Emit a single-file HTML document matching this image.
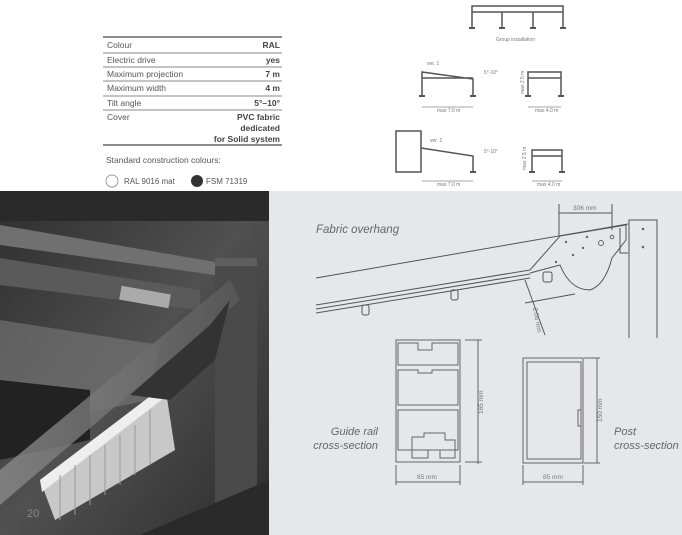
<!DOCTYPE html>
<html><head><meta charset="utf-8"><style>
html,body{margin:0;padding:0;background:#fff;width:682px;height:535px;overflow:hidden}
svg{display:block}
text{font-family:"Liberation Sans",sans-serif}
</style></head><body>
<svg width="682" height="535" viewBox="0 0 682 535" xmlns="http://www.w3.org/2000/svg">
<defs>
<linearGradient id="ph" x1="0" y1="0" x2="1" y2="1">
<stop offset="0" stop-color="#2e2e2e"/><stop offset="0.5" stop-color="#505050"/><stop offset="1" stop-color="#2c2c2c"/></linearGradient>
<linearGradient id="gl" x1="0" y1="0" x2="1" y2="0">
<stop offset="0" stop-color="#8a8a8a"/><stop offset="1" stop-color="#5a5a5a"/></linearGradient>
</defs>
<!-- table -->
<g font-size="8.5" fill="#555">
<line x1="103" y1="37" x2="282" y2="37" stroke="#666" stroke-width="1.5"/>
<line x1="103" y1="53" x2="282" y2="53" stroke="#888" stroke-width="1"/>
<line x1="103" y1="67" x2="282" y2="67" stroke="#888" stroke-width="1"/>
<line x1="103" y1="81" x2="282" y2="81" stroke="#888" stroke-width="1"/>
<line x1="103" y1="96" x2="282" y2="96" stroke="#888" stroke-width="1"/>
<line x1="103" y1="110" x2="282" y2="110" stroke="#888" stroke-width="1"/>
<line x1="103" y1="145" x2="282" y2="145" stroke="#666" stroke-width="1.5"/>
<text x="107" y="48">Colour</text><text x="107" y="63">Electric drive</text><text x="107" y="77">Maximum projection</text><text x="107" y="91">Maximum width</text><text x="107" y="106">Tilt angle</text><text x="107" y="120">Cover</text>
<g font-weight="bold" text-anchor="end" fill="#444"><text x="280" y="48">RAL</text><text x="280" y="63">yes</text><text x="280" y="77">7 m</text><text x="280" y="91">4 m</text><text x="280" y="106">5°–10°</text><text x="280" y="120">PVC fabric</text><text x="280" y="131">dedicated</text><text x="280" y="142">for Solid system</text></g>
<text x="106" y="163">Standard construction colours:</text>
<circle cx="112" cy="181" r="6" fill="#fff" stroke="#999"/><text x="124" y="184" font-size="8">RAL 9016 mat</text>
<circle cx="197" cy="181" r="6" fill="#333"/><text x="206" y="184" font-size="8">FSM 71319</text>
</g>
<!-- top right diagrams -->
<g stroke="#555" stroke-width="1.5" fill="none">
<path d="M472 28V6H563V28M472 12H563M502 12V28M533 12V28"/>
<path d="M422 96V72L473 79V96M422 78H473"/>
<path d="M528 96V72H561V96M528 78H561"/>
<rect x="396" y="131" width="25" height="41"/>
<path d="M421 148L473 156V172"/>
<path d="M532 172V150H562V172M532 156H562"/>
</g>
<g fill="#555"><rect x="469" y="27" width="6" height="2"/><rect x="499" y="27" width="6" height="2"/><rect x="530" y="27" width="6" height="2"/><rect x="560" y="27" width="6" height="2"/>
<rect x="419" y="95" width="6" height="2"/><rect x="470" y="95" width="6" height="2"/><rect x="525" y="95" width="6" height="2"/><rect x="558" y="95" width="6" height="2"/>
<rect x="470" y="171" width="6" height="2"/><rect x="529" y="171" width="6" height="2"/><rect x="559" y="171" width="6" height="2"/></g>
<g stroke="#888" stroke-width="0.7"><line x1="422" y1="107" x2="473" y2="107"/><line x1="528" y1="107" x2="561" y2="107"/><line x1="422" y1="181" x2="473" y2="181"/><line x1="532" y1="181" x2="562" y2="181"/></g>
<g font-size="5" fill="#777"><text x="496" y="41">Group installation</text><text x="427" y="65">ver. 1</text><text x="430" y="142">ver. 2</text><text x="484" y="74">5°-10°</text><text x="484" y="153">5°-10°</text>
<text x="437" y="112">max 7.0 m</text><text x="535" y="112">max 4.0 m</text><text x="437" y="186">max 7.0 m</text><text x="537" y="186">max 4.0 m</text>
<text transform="translate(524,94) rotate(-90)">max 2.5 m</text><text transform="translate(526,170) rotate(-90)">max 2.5 m</text></g>
<!-- photo -->
<rect x="0" y="191" width="269" height="344" fill="url(#ph)"/>
<rect x="0" y="191" width="269" height="30" fill="#2a2a2a"/>
<path d="M0 225L215 262V275L0 245Z" fill="#707070"/>
<path d="M0 258L200 290V310L0 285Z" fill="#5a5a5a"/>
<path d="M0 320L160 345L150 400L0 430Z" fill="#7a7a7a" opacity="0.6"/>
<path d="M0 380L90 390V440L0 460Z" fill="#222"/>
<rect x="215" y="258" width="42" height="277" fill="#4a4a4a"/>
<rect x="215" y="258" width="42" height="8" fill="#5e5e5e"/>
<path d="M0 470L230 280L240 300L0 505Z" fill="url(#gl)" opacity="0.8"/>
<path d="M40 480L165 385L175 450L55 520Z" fill="#c8c8c8"/>
<path d="M40 480L165 385L168 395L42 492Z" fill="#eee"/>
<g stroke="#999" stroke-width="1"><path d="M60 475V520M75 465V515M90 455V505M105 445V495M120 435V485M135 425V475M150 410V465"/></g>
<path d="M130 395L210 325L230 300L215 360L170 400Z" fill="#333"/>
<rect x="120" y="290" width="50" height="14" fill="#aaa" transform="rotate(10 145 297)"/>
<path d="M140 535L269 480V535Z" fill="#2a2a2a"/>
<text x="27" y="517" font-size="11" fill="#888">20</text>
<!-- right panel -->
<rect x="269" y="191" width="413" height="344" fill="#e6e7e9"/>
<text x="316" y="233" font-size="11.5" font-style="italic" fill="#666">Fabric overhang</text>
<g stroke="#555" stroke-width="1" fill="none">
<path d="M316 278L628 224"/>
<path d="M316 305L530 270M316 309L530 274M316 313L530 278"/>
<path d="M530 270L560 236L626 225L626 240L612 258Q605 285 590 290Q570 290 560 265L530 273"/>
<path d="M620 228V253H628"/>
<path d="M629 338V220H657V338"/>
<path d="M559 204V236M612 204V230M559 213H612"/>
<path d="M525 280L545 335M525 303L575 294"/>
<rect x="543" y="272" width="9" height="10" rx="2"/>
<rect x="451" y="290" width="7" height="10" rx="2"/>
<rect x="362" y="305" width="7" height="10" rx="2"/>
</g>
<g fill="#666"><circle cx="601" cy="243" r="2.5" fill="none" stroke="#666"/><circle cx="566" cy="242" r="1.2"/><circle cx="587" cy="237" r="1.2"/><circle cx="583" cy="248" r="1.2"/><circle cx="573" cy="255" r="1.2"/><circle cx="556" cy="262" r="1.2"/><circle cx="643" cy="229" r="1.3"/><circle cx="643" cy="247" r="1.3"/><circle cx="612" cy="237" r="1.8" fill="none" stroke="#666"/></g>
<text x="573" y="210" font-size="6.5" fill="#777">306 mm</text>
<text transform="translate(533,308) rotate(80)" font-size="6.5" fill="#777">2.06 mm</text>
<!-- guide rail -->
<g stroke="#666" stroke-width="1" fill="none">
<path d="M396 340H460V462H396Z"/>
<path d="M398 343H418V350H432V343H458V365H398Z"/>
<path d="M398 370H418V373H432V370H458V405H398Z"/>
<path d="M398 410H458V450H398Z"/>
<path d="M412 450V437H424V433H445V440H455V458H440V450H428V458H412Z"/>
<path d="M478 340V464M465 340H482M465 462H482M396 465V485M460 465V485M396 482H460"/>
</g>
<text transform="translate(483,414) rotate(-90)" font-size="6.5" fill="#777">165 mm</text>
<text x="417" y="479" font-size="6.5" fill="#777">85 mm</text>
<text x="378" y="435" font-size="11" font-style="italic" fill="#666" text-anchor="end">Guide rail</text>
<text x="378" y="449" font-size="11" font-style="italic" fill="#666" text-anchor="end">cross-section</text>
<!-- post -->
<g stroke="#666" stroke-width="1" fill="none">
<rect x="523" y="358" width="60" height="105"/>
<path d="M527 362H581V459H527Z"/>
<path d="M581 410h-3v16h3"/>
<path d="M597 358V463M584 358H600M584 463H600M523 465V485M583 465V485M523 482H583"/>
</g>
<text transform="translate(602,422) rotate(-90)" font-size="6.5" fill="#777">150 mm</text>
<text x="543" y="479" font-size="6.5" fill="#777">85 mm</text>
<text x="614" y="435" font-size="11" font-style="italic" fill="#666">Post</text>
<text x="614" y="449" font-size="11" font-style="italic" fill="#666">cross-section</text>
</svg>
</body></html>
